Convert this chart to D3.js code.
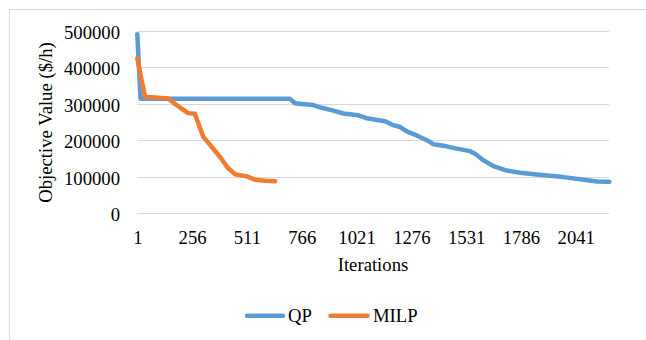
<!DOCTYPE html>
<html>
<head>
<meta charset="utf-8">
<script src="https://cdn.jsdelivr.net/npm/d3@7"></script>
<style>
  html, body { margin: 0; padding: 0; background: #fff; }
  svg { display: block; font-family: "Liberation Serif", "Times New Roman", serif; }
</style>
</head>
<body>
<svg id="chart" width="646" height="340"></svg>
<script>
// Objective value per iteration for the two formulations (breakpoints of each curve)
const qpIter  = [1, 16, 712, 735, 766, 820, 851, 913, 960, 1029, 1068, 1154, 1192, 1223, 1255, 1301, 1348, 1378, 1425, 1487, 1549, 1572, 1611, 1658, 1720, 1782, 1859, 1983, 2061, 2139, 2197];
const qpValue = [490000, 313000, 313000, 301000, 299000, 296000, 290000, 281000, 273000, 268000, 260000, 252000, 241000, 236000, 224000, 213000, 200000, 189000, 185000, 177000, 170000, 163000, 145000, 129000, 117000, 111000, 106000, 99000, 93000, 87000, 86000];

const milpIter  = [1, 21, 37, 145, 181, 237, 269, 285, 308, 347, 386, 424, 456, 510, 549, 596, 642];
const milpValue = [424000, 365000, 319000, 314000, 297000, 274000, 272000, 246000, 209000, 182000, 154000, 123000, 107000, 101000, 92000, 89000, 88000];

const xTicks = [1, 256, 511, 766, 1021, 1276, 1531, 1786, 2041];
const yTicks = [0, 100000, 200000, 300000, 400000, 500000];
const xMax = 2197;

const seriesNames = ["QP", "MILP"];
const seriesColors = ["#5B9BD5", "#ED7D31"];

const FONT = 18.7;
const svg = d3.select("#chart");

// chart area frame
svg.append("rect")
  .attr("x", 9.5).attr("y", 9.5)
  .attr("width", 700).attr("height", 400)
  .attr("fill", "#fff").attr("stroke", "#d9d9d9").attr("stroke-width", 1);

const plot = { left: 137.3, right: 609.3, top: 30.5, bottom: 213.3 };

const x = d3.scaleLinear().domain([1, xMax]).range([plot.left, plot.right]);
const y = d3.scaleLinear().domain([0, 500000]).range([plot.bottom, plot.top]);

// horizontal gridlines
svg.append("g")
  .selectAll("line")
  .data(yTicks)
  .join("line")
  .attr("x1", plot.left).attr("x2", plot.right)
  .attr("y1", d => Math.round(y(d)) + 0.5).attr("y2", d => Math.round(y(d)) + 0.5)
  .attr("stroke", "#d9d9d9").attr("stroke-width", 1);

// y axis labels
const yAxis = d3.axisLeft(y).tickValues(yTicks).tickSize(0).tickPadding(0)
  .tickFormat(d3.format("d"));
svg.append("g")
  .attr("transform", "translate(120,0)")
  .call(yAxis)
  .call(g => g.select(".domain").remove())
  .call(g => g.selectAll("text")
    .attr("font-family", "Liberation Serif")
    .attr("font-size", FONT)
    .attr("fill", "#000")
    .attr("dy", "0.41em"));

// x axis labels
const xAxis = d3.axisBottom(x).tickValues(xTicks).tickSize(0).tickPadding(0)
  .tickFormat(d3.format("d"));
svg.append("g")
  .attr("transform", "translate(0,243.5)")
  .call(xAxis)
  .call(g => g.select(".domain").remove())
  .call(g => g.selectAll("text")
    .attr("font-family", "Liberation Serif")
    .attr("font-size", FONT)
    .attr("fill", "#000")
    .attr("y", 0)
    .attr("dy", 0));

// axis titles
svg.append("text")
  .attr("x", 373).attr("y", 271.3)
  .attr("text-anchor", "middle")
  .attr("font-size", FONT)
  .text("Iterations");

svg.append("text")
  .attr("transform", "translate(52,122.5) rotate(-90)")
  .attr("text-anchor", "middle")
  .attr("font-size", FONT)
  .text("Objective Value ($/h)");

// series lines
const line = d3.line()
  .x(d => x(d[0]))
  .y(d => y(d[1]));

const series = [
  qpIter.map((it, i) => [it, qpValue[i]]),
  milpIter.map((it, i) => [it, milpValue[i]])
];

series.forEach((pts, i) => {
  svg.append("path")
    .datum(pts)
    .attr("d", line)
    .attr("fill", "none")
    .attr("stroke", seriesColors[i])
    .attr("stroke-width", 4.5)
    .attr("stroke-linejoin", "round")
    .attr("stroke-linecap", "round");
});

// legend
const legendItems = [
  { name: seriesNames[0], color: seriesColors[0], x0: 247, x1: 283, tx: 288 },
  { name: seriesNames[1], color: seriesColors[1], x0: 330.5, x1: 367.5, tx: 373 }
];
const lg = svg.append("g");
legendItems.forEach(d => {
  lg.append("line")
    .attr("x1", d.x0).attr("x2", d.x1)
    .attr("y1", 315.7).attr("y2", 315.7)
    .attr("stroke", d.color).attr("stroke-width", 4.5)
    .attr("stroke-linecap", "round");
  lg.append("text")
    .attr("x", d.tx).attr("y", 321.5)
    .attr("font-size", FONT)
    .text(d.name);
});
</script>
</body>
</html>
